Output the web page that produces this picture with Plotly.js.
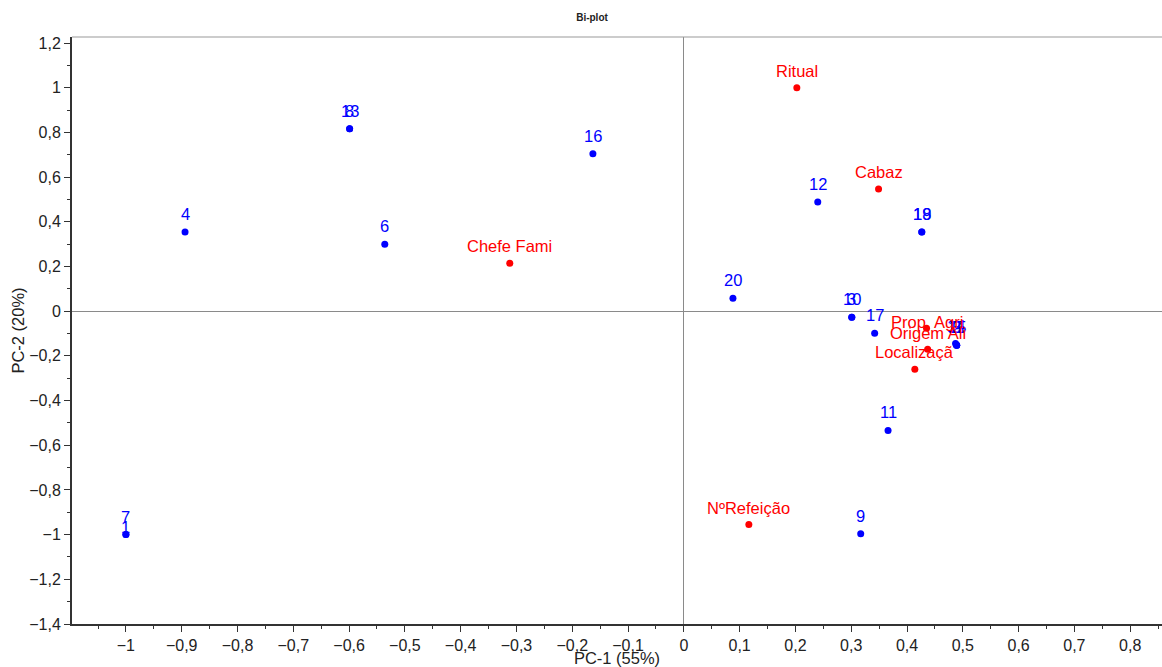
<!DOCTYPE html>
<html>
<head>
<meta charset="utf-8">
<script src="https://cdn.plot.ly/plotly-3.0.1.min.js"></script>
<style>html,body{margin:0;padding:0;background:#fff;}#chart{width:1162px;height:667px;}</style>
</head>
<body>
<div id="chart"></div>
<script>
// Observations (blue)
const obsLabels = ["7", "1", "4", "13", "8", "6", "16", "20", "12", "18", "19", "10", "3", "17", "11", "9", "14", "15", "2", "5"];
const obsX = [-1.0, -1.0, -0.894, -0.599, -0.599, -0.536, -0.163, 0.088, 0.240, 0.4265, 0.4265, 0.301, 0.301, 0.342, 0.366, 0.317, 0.487, 0.489, 0.489, 0.489];
const obsY = [-1.0, -1.0, 0.354, 0.816, 0.816, 0.300, 0.704, 0.058, 0.489, 0.354, 0.354, -0.027, -0.027, -0.099, -0.534, -0.996, -0.145, -0.152, -0.152, -0.152];

// Variables (red)
const varLabels = ["Ritual", "Cabaz", "Chefe Fami", "Prop. Agri", "Origem Ali", "Localizaçã", "NºRefeição"];
const varX = [0.2025, 0.349, -0.312, 0.435, 0.437, 0.414, 0.1165];
const varY = [1.0, 0.547, 0.215, -0.076, -0.170, -0.260, -0.955];

const axisTitles = {x: "PC-1 (55%)", y: "PC-2 (20%)"};
const chartTitle = "Bi-plot";

// label vertical offsets (px) — style only
const obsShift = {"7": 18, "1": 8};
const varShift = {"Prop. Agri": 6, "Origem Ali": 16, "Localizaçã": 17};

const FONT = "Liberation Sans, Arial, sans-serif";

const traces = [
  {x: obsX, y: obsY, mode: "markers", type: "scatter", marker: {color: "#0000FF", size: 7}, hoverinfo: "skip", showlegend: false},
  {x: varX, y: varY, mode: "markers", type: "scatter", marker: {color: "#FF0000", size: 7}, hoverinfo: "skip", showlegend: false}
];

const annotations = [];
obsLabels.forEach((t, i) => {
  annotations.push({x: obsX[i], y: obsY[i], xref: "x", yref: "y", text: t, showarrow: false,
    yshift: (obsShift[t] !== undefined ? obsShift[t] : 18), font: {family: FONT, size: 16.5, color: "#0000FF"}});
});
varLabels.forEach((t, i) => {
  annotations.push({x: varX[i], y: varY[i], xref: "x", yref: "y", text: t, showarrow: false,
    yshift: (varShift[t] !== undefined ? varShift[t] : 17), font: {family: FONT, size: 16.5, color: "#FF0000"}});
});

const layout = {
  width: 1162, height: 667,
  margin: {l: 72, r: 0, t: 37, b: 43},
  paper_bgcolor: "#fff", plot_bgcolor: "#fff",
  separators: ", ",
  font: {family: FONT, color: "#222"},
  title: {text: chartTitle, x: 592/1162, xref: "container", xanchor: "center", y: 1 - 17/667, yref: "container", yanchor: "middle",
    font: {family: FONT, size: 10, color: "#222", weight: "bold"}},
  xaxis: {
    range: [-1.0966, 0.857], dtick: 0.1, tick0: 0, showgrid: false, zeroline: true, zerolinecolor: "#8a8a8a", zerolinewidth: 1,
    showline: true, linecolor: "#333", linewidth: 2, ticks: "outside", ticklen: 6, tickcolor: "#333", tickwidth: 1,
    tickfont: {family: FONT, size: 16, color: "#222"},
    minor: {dtick: 0.05, tick0: 0, ticks: "outside", ticklen: 3, tickcolor: "#333", showgrid: false},
    title: {text: axisTitles.x, standoff: 6, font: {family: FONT, size: 16.5, color: "#222"}},
    fixedrange: true
  },
  yaxis: {
    range: [-1.4, 1.227], dtick: 0.2, tick0: 0, showgrid: false, zeroline: true, zerolinecolor: "#8a8a8a", zerolinewidth: 1,
    showline: true, linecolor: "#333", linewidth: 2, ticks: "outside", ticklen: 6, tickcolor: "#333", tickwidth: 1,
    tickfont: {family: FONT, size: 16, color: "#222"},
    minor: {dtick: 0.1, tick0: 0, ticks: "outside", ticklen: 3, tickcolor: "#333", showgrid: false},
    title: {text: axisTitles.y, standoff: 0, font: {family: FONT, size: 16.5, color: "#222"}},
    fixedrange: true
  },
  shapes: [
    {type: "line", xref: "paper", yref: "paper", x0: 0, x1: 1, y0: 1, y1: 1, line: {color: "#999", width: 1}}
  ],
  annotations: annotations
};

Plotly.newPlot("chart", traces, layout, {displayModeBar: false, staticPlot: true});
</script>
</body>
</html>
